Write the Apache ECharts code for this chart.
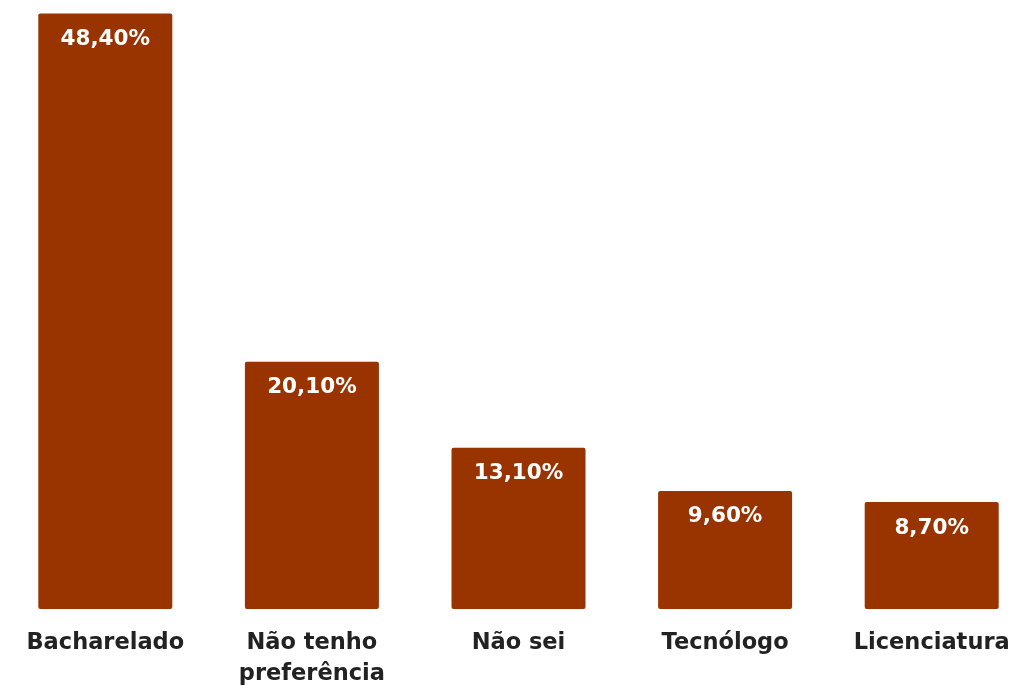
<!DOCTYPE html>
<html>
<head>
<meta charset="utf-8">
<script src="https://cdn.jsdelivr.net/npm/echarts@6/dist/echarts.min.js"></script>
<style>
html,body{margin:0;padding:0;background:#fff;}
#chart{width:1016px;height:686px;}
</style>
</head>
<body>
<div id="chart"></div>
<script>
const categories = ['Bacharelado', 'Não tenho\npreferência', 'Não sei', 'Tecnólogo', 'Licenciatura'];
const values = [48.4, 20.1, 13.1, 9.6, 8.7];

const chart = echarts.init(document.getElementById('chart'), null, {renderer: 'canvas'});
chart.setOption({
  animation: false,
  grid: {left: 2, width: 1033, top: 11, bottom: 77, containLabel: false, outerBoundsMode: 'none'},
  xAxis: {
    type: 'category',
    data: categories,
    axisLine: {show: false},
    axisTick: {show: false},
    axisLabel: {
      interval: 0,
      margin: 19,
      color: '#222222',
      fontFamily: 'DejaVu Sans',
      fontWeight: 'bold',
      fontSize: 22.5,
      lineHeight: 31
    }
  },
  yAxis: {
    type: 'value',
    min: 0,
    max: 48.6,
    show: false,
    splitLine: {show: false}
  },
  series: [{
    type: 'bar',
    data: values,
    barWidth: 134,
    itemStyle: {color: '#993300', borderRadius: 2},
    label: {
      show: true,
      position: 'insideTop',
      distance: 15,
      color: '#ffffff',
      fontFamily: 'DejaVu Sans',
      fontWeight: 'bold',
      fontSize: 21.5,
      formatter: p => p.value.toFixed(2).replace('.', ',') + '%'
    }
  }]
});
</script>
</body>
</html>
